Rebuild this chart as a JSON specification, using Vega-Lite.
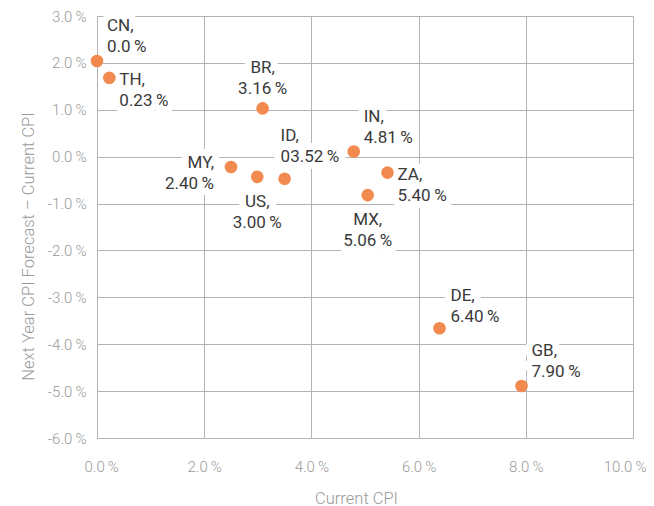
{
  "$schema": "https://vega.github.io/schema/vega-lite/v6.json",
  "width": 536,
  "height": 422,
  "autosize": {"type": "none"},
  "padding": {"left": 97, "top": 16, "right": 21, "bottom": 68},
  "background": "white",
  "config": {
    "font": "Roboto",
    "view": {"stroke": null},
    "axis": {
      "gridColor": "#b3b3b3",
      "gridWidth": 1,
      "domainColor": "#b3b3b3",
      "ticks": false,
      "labelColor": "#9a9a9a",
      "labelFontSize": 15,
      "labelFont": "Roboto",
      "labelFontWeight": 300,
      "titleColor": "#9a9a9a",
      "titleFontSize": 16.5,
      "titleFontWeight": 300,
      "titleFont": "Roboto"
    }
  },
  "data": {
    "values": [
      {"c": "CN", "cur": 0.0, "diff": 2.04, "lab": "0.0\u2009%"},
      {"c": "TH", "cur": 0.23, "diff": 1.68, "lab": "0.23\u2009%"},
      {"c": "BR", "cur": 3.09, "diff": 1.03, "lab": "3.16\u2009%"},
      {"c": "MY", "cur": 2.5, "diff": -0.22, "lab": "2.40\u2009%"},
      {"c": "US", "cur": 2.99, "diff": -0.43, "lab": "3.00\u2009%"},
      {"c": "ID", "cur": 3.5, "diff": -0.47, "lab": "03.52\u2009%"},
      {"c": "IN", "cur": 4.79, "diff": 0.11, "lab": "4.81\u2009%"},
      {"c": "ZA", "cur": 5.42, "diff": -0.34, "lab": "5.40\u2009%"},
      {"c": "MX", "cur": 5.05, "diff": -0.82, "lab": "5.06\u2009%"},
      {"c": "DE", "cur": 6.39, "diff": -3.66, "lab": "6.40\u2009%"},
      {"c": "GB", "cur": 7.92, "diff": -4.89, "lab": "7.90\u2009%"}
    ]
  },
  "transform": [
    {"calculate": "[datum.c + ',', datum.lab]", "as": "txt"}
  ],
  "encoding": {
    "x": {
      "field": "cur", "type": "quantitative",
      "scale": {"domain": [0, 10], "nice": false, "zero": false},
      "axis": {
        "values": [0, 2, 4, 6, 8, 10],
        "labelExpr": "format(datum.value, '.1f') + '\u2009%'",
        "labelPadding": 21,
        "labelFlush": true,
        "labelFlushOffset": 13,
        "title": "Current CPI",
        "titleX": 259,
        "titlePadding": 16,
        "grid": true
      }
    },
    "y": {
      "field": "diff", "type": "quantitative",
      "scale": {"domain": [-6, 3], "nice": false, "zero": false},
      "axis": {
        "values": [-6, -5, -4, -3, -2, -1, 0, 1, 2, 3],
        "labelExpr": "replace(format(datum.value, '.1f'), '\u2212', '-') + '\u2009%'",
        "labelPadding": 11,
        "labelFlush": false,
        "title": "Next Year CPI Forecast – Current CPI",
        "titleY": 230,
        "titlePadding": 11,
        "grid": true
      }
    }
  },
  "layer": [
    {
      "transform": [{"filter": {"field": "c", "oneOf": ["CN", "IN", "GB"]}}],
      "mark": {"type": "text", "align": "left", "baseline": "middle", "dx": 10, "dy": -35, "fontSize": 17, "lineHeight": 21, "stroke": "white", "strokeWidth": 14, "strokeJoin": "round", "fill": "white"},
      "encoding": {"text": {"field": "txt"}}
    },
    {
      "transform": [{"filter": {"field": "c", "oneOf": ["DE"]}}],
      "mark": {"type": "text", "align": "left", "baseline": "middle", "dx": 11, "dy": -32, "fontSize": 17, "lineHeight": 21, "stroke": "white", "strokeWidth": 14, "strokeJoin": "round", "fill": "white"},
      "encoding": {"text": {"field": "txt"}}
    },
    {
      "transform": [{"filter": {"field": "c", "oneOf": ["ID"]}}],
      "mark": {"type": "text", "align": "left", "baseline": "middle", "dx": -4, "dy": -43, "fontSize": 17, "lineHeight": 21, "stroke": "white", "strokeWidth": 14, "strokeJoin": "round", "fill": "white"},
      "encoding": {"text": {"field": "txt"}}
    },
    {
      "transform": [{"filter": {"field": "c", "oneOf": ["TH", "ZA"]}}],
      "mark": {"type": "text", "align": "left", "baseline": "middle", "dx": 10, "dy": 2.5, "fontSize": 17, "lineHeight": 21, "stroke": "white", "strokeWidth": 14, "strokeJoin": "round", "fill": "white"},
      "encoding": {"text": {"field": "txt"}}
    },
    {
      "transform": [{"filter": {"field": "c", "oneOf": ["BR"]}}],
      "mark": {"type": "text", "align": "center", "baseline": "middle", "dx": 0, "dy": -40, "fontSize": 17, "lineHeight": 21, "stroke": "white", "strokeWidth": 14, "strokeJoin": "round", "fill": "white"},
      "encoding": {"text": {"field": "txt"}}
    },
    {
      "transform": [{"filter": {"field": "c", "oneOf": ["US", "MX"]}}],
      "mark": {"type": "text", "align": "center", "baseline": "middle", "dx": 0, "dy": 25, "fontSize": 17, "lineHeight": 21, "stroke": "white", "strokeWidth": 14, "strokeJoin": "round", "fill": "white"},
      "encoding": {"text": {"field": "txt"}}
    },
    {
      "transform": [{"filter": {"field": "c", "oneOf": ["MY"]}}],
      "mark": {"type": "text", "align": "right", "baseline": "middle", "dx": -17, "dy": -4, "fontSize": 17, "lineHeight": 21, "stroke": "white", "strokeWidth": 14, "strokeJoin": "round", "fill": "white"},
      "encoding": {"text": {"field": "txt"}}
    },
    {
      "mark": {"type": "circle", "size": 160, "color": "#f28a4f", "opacity": 1}
    },
    {
      "transform": [{"filter": {"field": "c", "oneOf": ["CN", "IN", "GB"]}}],
      "mark": {"type": "text", "align": "left", "baseline": "middle", "dx": 10, "dy": -35, "fontSize": 17, "lineHeight": 21, "fill": "#3a3a3a"},
      "encoding": {"text": {"field": "txt"}}
    },
    {
      "transform": [{"filter": {"field": "c", "oneOf": ["DE"]}}],
      "mark": {"type": "text", "align": "left", "baseline": "middle", "dx": 11, "dy": -32, "fontSize": 17, "lineHeight": 21, "fill": "#3a3a3a"},
      "encoding": {"text": {"field": "txt"}}
    },
    {
      "transform": [{"filter": {"field": "c", "oneOf": ["ID"]}}],
      "mark": {"type": "text", "align": "left", "baseline": "middle", "dx": -4, "dy": -43, "fontSize": 17, "lineHeight": 21, "fill": "#3a3a3a"},
      "encoding": {"text": {"field": "txt"}}
    },
    {
      "transform": [{"filter": {"field": "c", "oneOf": ["TH", "ZA"]}}],
      "mark": {"type": "text", "align": "left", "baseline": "middle", "dx": 10, "dy": 2.5, "fontSize": 17, "lineHeight": 21, "fill": "#3a3a3a"},
      "encoding": {"text": {"field": "txt"}}
    },
    {
      "transform": [{"filter": {"field": "c", "oneOf": ["BR"]}}],
      "mark": {"type": "text", "align": "center", "baseline": "middle", "dx": 0, "dy": -40, "fontSize": 17, "lineHeight": 21, "fill": "#3a3a3a"},
      "encoding": {"text": {"field": "txt"}}
    },
    {
      "transform": [{"filter": {"field": "c", "oneOf": ["US", "MX"]}}],
      "mark": {"type": "text", "align": "center", "baseline": "middle", "dx": 0, "dy": 25, "fontSize": 17, "lineHeight": 21, "fill": "#3a3a3a"},
      "encoding": {"text": {"field": "txt"}}
    },
    {
      "transform": [{"filter": {"field": "c", "oneOf": ["MY"]}}],
      "mark": {"type": "text", "align": "right", "baseline": "middle", "dx": -17, "dy": -4, "fontSize": 17, "lineHeight": 21, "fill": "#3a3a3a"},
      "encoding": {"text": {"field": "txt"}}
    }
  ]
}
